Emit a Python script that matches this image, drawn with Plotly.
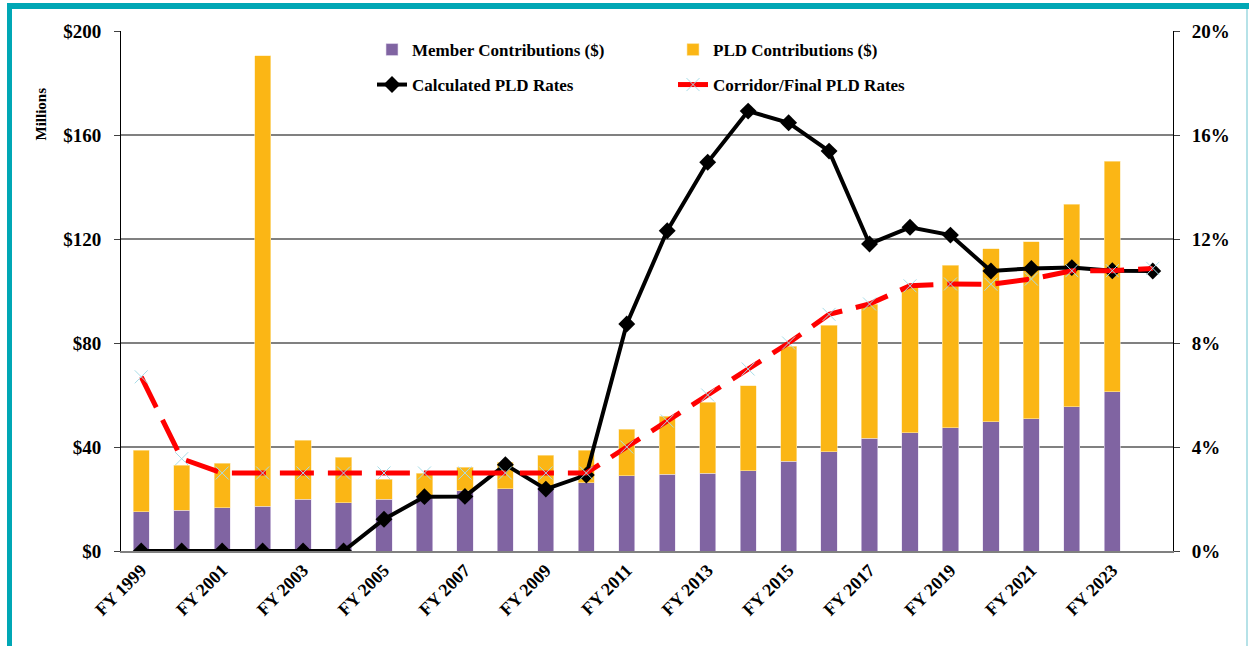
import plotly.graph_objects as go

categories = ["FY 1999", "FY 2000", "FY 2001", "FY 2002", "FY 2003", "FY 2004", "FY 2005",
              "FY 2006", "FY 2007", "FY 2008", "FY 2009", "FY 2010", "FY 2011", "FY 2012",
              "FY 2013", "FY 2014", "FY 2015", "FY 2016", "FY 2017", "FY 2018", "FY 2019",
              "FY 2020", "FY 2021", "FY 2022", "FY 2023", "FY 2024"]

member_contrib = [15.1, 15.6, 16.7, 17.2, 20.0, 18.6, 19.9, 21.0, 23.1, 24.0, 25.0, 26.3, 29.0,
                  29.5, 30.0, 30.8, 34.6, 38.2, 43.3, 45.4, 47.4, 49.7, 50.8, 55.5, 61.3, None]
pld_contrib = [23.6, 17.4, 17.0, 173.2, 22.6, 17.4, 7.7, 8.9, 9.2, 10.2, 11.8, 12.4, 17.9,
               22.4, 27.2, 32.7, 44.2, 48.6, 51.7, 56.3, 62.6, 66.5, 68.2, 77.8, 88.7, None]
calc_rates = [0, 0, 0, 0, 0, 0, 1.22, 2.09, 2.1, 3.32, 2.38, 2.92, 8.73, 12.32, 14.95, 16.92,
              16.47, 15.38, 11.81, 12.45, 12.15, 10.77, 10.87, 10.9, 10.78, 10.77]
corridor_rates = [6.7, 3.55, 3.0, 3.0, 3.0, 3.0, 3.0, 3.0, 3.0, 3.0, 3.0, 3.0, 4.0, 5.0, 6.0,
                  7.0, 8.0, 9.1, 9.5, 10.2, 10.27, 10.26, 10.46, 10.78, 10.78, 10.87]

left_ticks = [0, 40, 80, 120, 160, 200]
left_ticktext = ["$0", "$40", "$80", "$120", "$160", "$200"]
right_ticks = [0, 4, 8, 12, 16, 20]
right_ticktext = ["0%", "4%", "8%", "12%", "16%", "20%"]
x_tickvals = categories[::2][:13]

FONT = "Liberation Serif, Times New Roman, serif"
W, H = 1249, 646
L, R, T, B = 121, 1173, 31, 551


def px(x):
    return (x - L) / (R - L)


def py(y):
    return (B - y) / (B - T)


fig = go.Figure()
fig.add_trace(go.Bar(x=categories, y=member_contrib, name="Member Contributions ($)",
                     marker=dict(color="#8064A2", line=dict(color="#E6DDF0", width=0.6)),
                     width=0.4, legend="legend"))
fig.add_trace(go.Bar(x=categories, y=pld_contrib, name="PLD Contributions ($)",
                     marker=dict(color="#FBB615", line=dict(color="#FDE8B0", width=0.6)),
                     width=0.4, legend="legend"))
fig.add_trace(go.Scatter(x=categories, y=calc_rates, name="Calculated PLD Rates",
                         mode="lines+markers", yaxis="y2",
                         line=dict(color="black", width=4),
                         marker=dict(symbol="diamond", size=13, color="black"),
                         legend="legend2"))
fig.add_trace(go.Scatter(x=categories, y=corridor_rates, name="Corridor/Final PLD Rates",
                         mode="lines+markers", yaxis="y2",
                         line=dict(color="#FF0000", width=5, dash="34px,14px"),
                         marker=dict(symbol="x-thin", size=13, color="#A8DDE8",
                                     line=dict(color="#A8DDE8", width=1)),
                         legend="legend2"))

legend_common = dict(orientation="h", xanchor="left", yanchor="middle",
                     font=dict(family=FONT, size=17, color="black", weight="bold"),
                     bgcolor="rgba(0,0,0,0)", entrywidth=256, itemwidth=30,
                     traceorder="normal")

fig.update_layout(
    width=W, height=H,
    margin=dict(l=L, r=W - R, t=T, b=H - B),
    paper_bgcolor="white", plot_bgcolor="white",
    barmode="stack",
    font=dict(family=FONT, color="black"),
    showlegend=True,
    legend=dict(x=px(372), y=py(50), **legend_common),
    legend2=dict(x=px(372), y=py(85), **legend_common),
    xaxis=dict(type="category", categoryorder="array", categoryarray=categories,
               tickmode="array", tickvals=x_tickvals, ticktext=x_tickvals,
               tickangle=-45, tickfont=dict(family=FONT, size=18, color="black", weight="bold"),
               showgrid=False, showline=True, linecolor="#808080", linewidth=1.5,
               ticks="", range=[-0.5, 25.5]),
    yaxis=dict(range=[0, 200], tickmode="array", tickvals=left_ticks, ticktext=left_ticktext,
               tickfont=dict(family=FONT, size=19, color="black", weight="bold"),
               showgrid=True, gridcolor="#808080", gridwidth=1.5,
               showline=True, linecolor="black", linewidth=1,
               ticks="outside", ticklen=6, tickcolor="#404040", zeroline=False,
               ticklabelstandoff=9),
    yaxis2=dict(range=[0, 20], overlaying="y", side="right",
                tickmode="array", tickvals=right_ticks, ticktext=right_ticktext,
                tickfont=dict(family=FONT, size=19, color="black", weight="bold"),
                showgrid=False, showline=True, linecolor="black", linewidth=1,
                ticks="outside", ticklen=6, tickcolor="#404040", zeroline=False,
                ticklabelstandoff=8),
    annotations=[dict(text="Millions", x=px(31), y=py(86), xref="paper", yref="paper",
                      textangle=-90, showarrow=False,
                      font=dict(family=FONT, size=15, color="black", weight="bold"))],
    shapes=[
        dict(type="line", xref="paper", yref="paper", x0=px(7), x1=px(1249), y0=py(6), y1=py(6),
             line=dict(color="#00A7B5", width=6)),
        dict(type="line", xref="paper", yref="paper", x0=px(9.5), x1=px(9.5), y0=py(3), y1=py(646),
             line=dict(color="#00A7B5", width=5)),
        dict(type="line", xref="paper", yref="paper", x0=px(1247), x1=px(1247), y0=py(9), y1=py(646),
             line=dict(color="#9ED8E0", width=1.5)),
    ],
)

fig.write_html("out.html", config={"displayModeBar": False},
               post_script="document.body.style.margin='0px';document.body.style.overflow='hidden';")
